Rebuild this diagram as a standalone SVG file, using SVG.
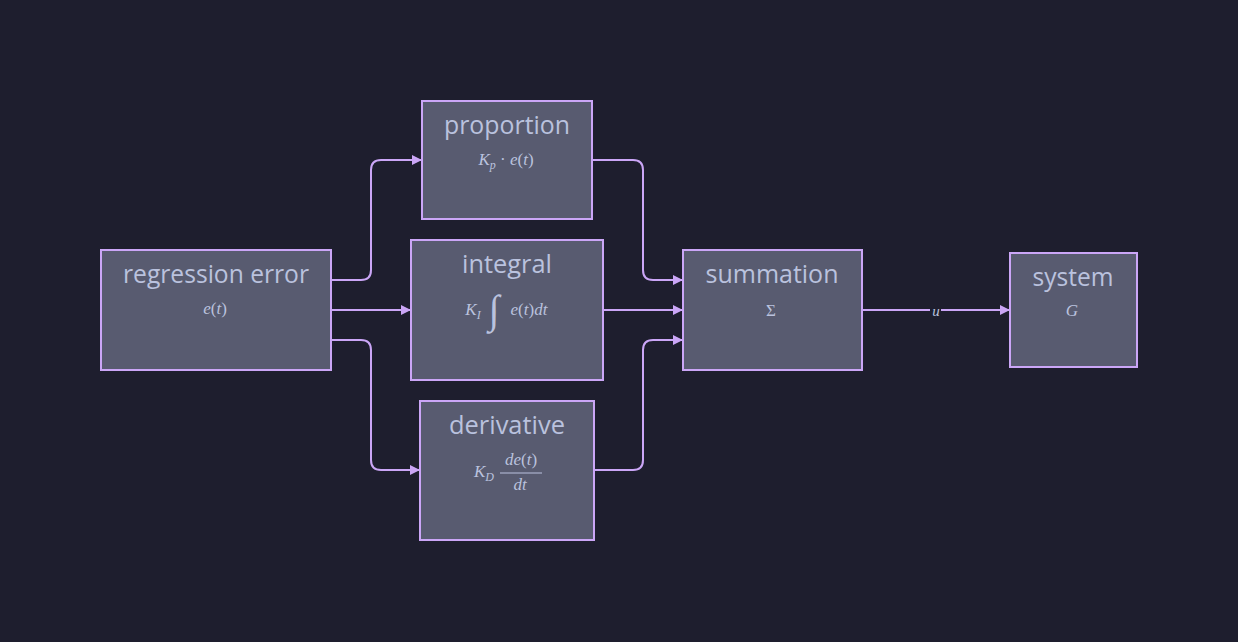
<svg xmlns="http://www.w3.org/2000/svg" width="1238" height="642" viewBox="0 0 1238 642">
<defs>
<marker id="arr" viewBox="0 0 10 10" refX="10" refY="5" markerWidth="10" markerHeight="10" markerUnits="userSpaceOnUse" orient="auto">
<path d="M0,0 L10,5 L0,10 z" fill="#cba6f7"/>
</marker>
<style>
.node rect{fill:#585b70;stroke:#cba6f7;stroke-width:2}
.t{font-family:"Open Sans","Noto Sans",sans-serif;font-size:25px;fill:#bac2de;text-anchor:middle}
.m{font-family:"Liberation Serif",serif;font-style:italic;font-size:17px;fill:#bac2de;text-anchor:middle}
.mu{font-family:"Liberation Serif",serif;font-size:17px;fill:#bac2de}
.edge{fill:none;stroke:#cba6f7;stroke-width:2;marker-end:url(#arr)}
</style>
</defs>
<rect width="1238" height="642" fill="#1e1e2e"/>
<g id="connectors">
<path class="edge" d="M331,280 H361 Q371,280 371,270 V170 Q371,160 381,160 H422"/>
<path class="edge" d="M331,310 H411"/>
<path class="edge" d="M331,340 H361 Q371,340 371,350 V460 Q371,470 381,470 H420"/>
<path class="edge" d="M592,160 H633 Q643,160 643,170 V270 Q643,280 653,280 H683"/>
<path class="edge" d="M603,310 H683"/>
<path class="edge" d="M594,470 H633 Q643,470 643,460 V350 Q643,340 653,340 H683"/>
<path class="edge" d="M862,310 H1010"/>
<rect x="930" y="302" width="11" height="16" fill="#1e1e2e"/>
<text x="936" y="316" class="m" style="font-size:15px">u</text>
</g>
<g id="regression-error" class="node">
<rect x="101" y="250" width="230" height="120"/>
<text x="216" y="283" class="t" textLength="186" lengthAdjust="spacingAndGlyphs">regression error</text>
<text x="215" y="314" class="m">e<tspan style="font-style:normal">(</tspan>t<tspan style="font-style:normal">)</tspan></text>
</g>
<g id="proportion" class="node">
<rect x="422" y="101" width="170" height="118"/>
<text x="507" y="134" class="t" textLength="126" lengthAdjust="spacingAndGlyphs">proportion</text>
<text x="506" y="165" class="m">K<tspan font-size="12" dy="4">p</tspan><tspan dy="-4" style="font-style:normal"> · </tspan>e<tspan style="font-style:normal">(</tspan>t<tspan style="font-style:normal">)</tspan></text>
</g>
<g id="integral" class="node">
<rect x="411" y="240" width="192" height="140"/>
<text x="507" y="273" class="t" textLength="90" lengthAdjust="spacingAndGlyphs">integral</text>
<text x="473" y="315" class="m">K<tspan font-size="12" dy="4">I</tspan></text>
<text x="494" y="323" class="m" style="font-size:40px;font-style:normal">∫</text>
<text x="529" y="315" class="m">e<tspan style="font-style:normal">(</tspan>t<tspan style="font-style:normal">)</tspan>dt</text>
</g>
<g id="derivative" class="node">
<rect x="420" y="401" width="174" height="139"/>
<text x="507" y="434" class="t" textLength="116" lengthAdjust="spacingAndGlyphs">derivative</text>
<text x="484" y="477" class="m">K<tspan font-size="12" dy="4">D</tspan></text>
<text x="521" y="465" class="m">de<tspan style="font-style:normal">(</tspan>t<tspan style="font-style:normal">)</tspan></text>
<line x1="500" y1="473" x2="542" y2="473" stroke="#bac2de" stroke-width="1"/>
<text x="520" y="490" class="m">dt</text>
</g>
<g id="summation" class="node">
<rect x="683" y="250" width="179" height="120"/>
<text x="772" y="283" class="t" textLength="133" lengthAdjust="spacingAndGlyphs">summation</text>
<text x="771" y="316" class="m" style="font-style:normal">Σ</text>
</g>
<g id="system" class="node">
<rect x="1010" y="253" width="127" height="114"/>
<text x="1073" y="286" class="t" textLength="81" lengthAdjust="spacingAndGlyphs">system</text>
<text x="1072" y="316" class="m">G</text>
</g>
</svg>
